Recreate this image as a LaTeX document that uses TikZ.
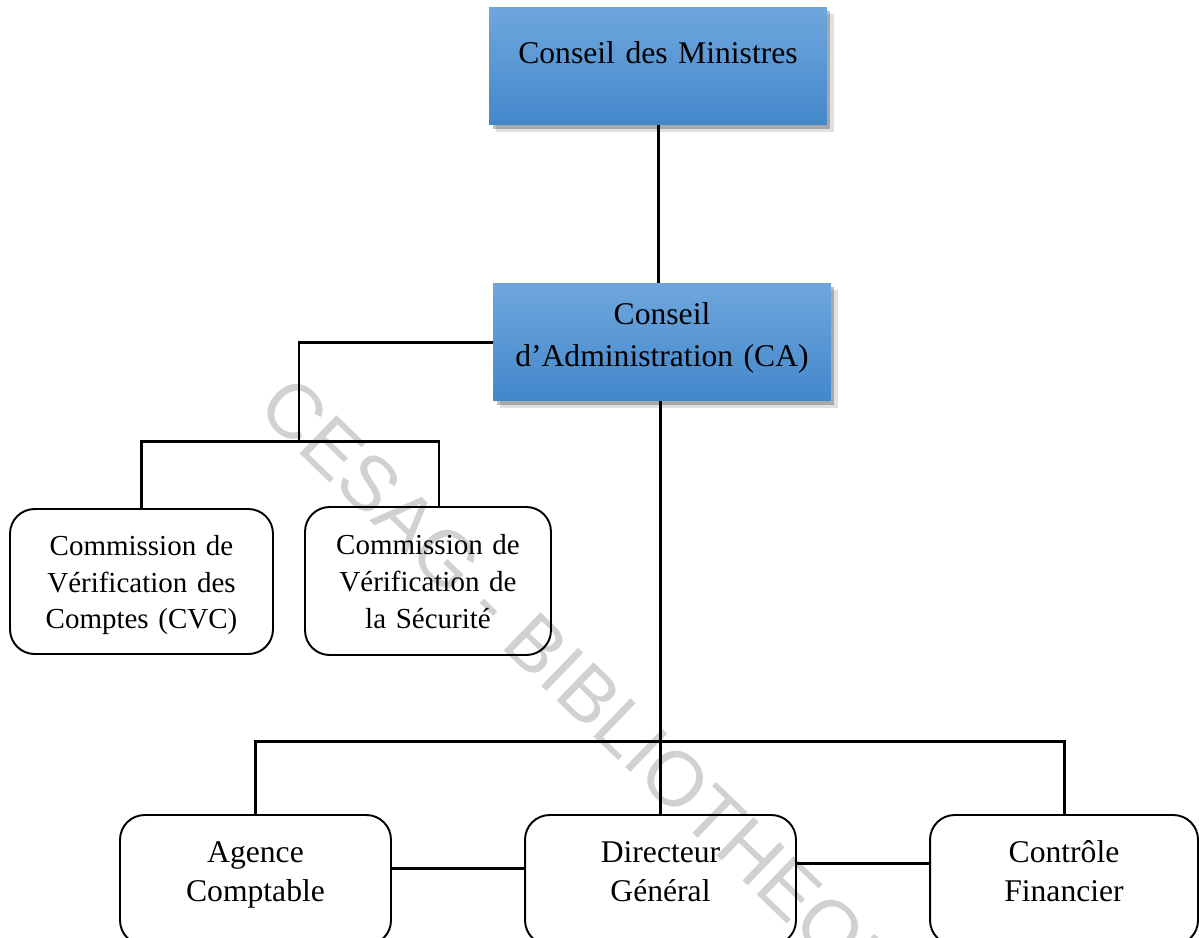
\documentclass[tikz,border=0pt]{standalone}
\usepackage{fontspec}
\setmainfont{Liberation Serif}
\newfontfamily\wmfont{Liberation Sans}
\usetikzlibrary{shadows}
\definecolor{boxtop}{RGB}{111,167,221}
\definecolor{boxbottom}{RGB}{67,135,203}

\begin{document}
\begin{tikzpicture}[x=0.02cm, y=-0.02cm,
    bluebox/.style={rectangle, top color=boxtop, bottom color=boxbottom, draw=none,
        minimum width=6.76cm, minimum height=2.36cm, inner sep=0pt,
        text width=6.2cm, align=center, text height=12pt,
        font=\fontsize{18}{24}\selectfont,
        drop shadow={shadow xshift=4pt, shadow yshift=-4pt, fill=black, opacity=0.12},
        drop shadow={shadow xshift=2pt, shadow yshift=-2pt, fill=black, opacity=0.25}},
    roundbox/.style={rectangle, rounded corners=14pt, draw=black, line width=1.1pt,
        inner sep=0pt, align=center, text height=12pt, text depth=32.5pt,
        minimum width=5.42cm, minimum height=2.6cm, text width=4.5cm,
        font=\fontsize{18}{22.7}\selectfont},
    combox/.style={roundbox, text height=11pt, text depth=41pt, minimum height=2.9cm,
        font=\fontsize{16.5}{21}\selectfont},
    link/.style={line width=1.7pt},
    watermark/.style={font=\wmfont\fontsize{44}{44}\selectfont, text=black!18}]
    \useasboundingbox (0,0) rectangle (1199,937);
    \clip (0,0) rectangle (1199,937);

    \node (wm) [watermark, anchor=base west, rotate=-44] at (251,406) {CESAG - BIBLIOTHEQUE};

    \node (cdm) [bluebox, text depth=14.3pt] at (658,66) {Conseil des Ministres};
    \node (ca) [bluebox, text depth=31.8pt] at (662,342) {Conseil\\d’Administration (CA)};

    \node (cvc) [combox, minimum width=5.26cm] at (141.5,581.5) {Commission de\\Vérification des\\Comptes (CVC)};
    \node (cvs) [combox, minimum width=4.92cm, minimum height=2.96cm, text width=4.2cm] at (428,581) {Commission de\\Vérification de\\la Sécurité};

    \node (ac) [roundbox] at (255.5,880) {Agence\\Comptable};
    \node (dg) [roundbox] at (660.5,880) {Directeur\\Général};
    \node (cf) [roundbox, minimum width=5.36cm] at (1064,880) {Contrôle\\Financier};

    \coordinate (bar1) at (299,441);
    \coordinate (bar2) at (660,741);

    \draw[link] (cdm.south) -- (cdm.south |- ca.north);
    \draw[link] (ca.west) -| (bar1);
    \draw[link] (cvc.north) |- (bar1) -| ([xshift=0.22cm]cvs.north);
    \draw[link] (dg.north |- ca.south) -- (dg.north);
    \draw[link] (ac.north) |- (bar2) -| (cf.north);
    \draw[link] ([yshift=0.24cm]ac.east) -- ([yshift=0.24cm]dg.west);
    \draw[link] ([yshift=0.34cm]dg.east) -- ([yshift=0.34cm]cf.west);
\end{tikzpicture}
\end{document}
